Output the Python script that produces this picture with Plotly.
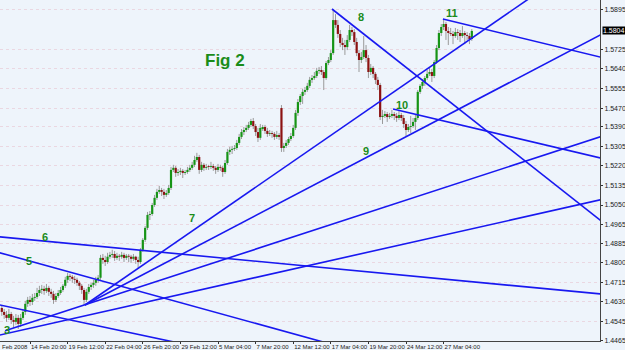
import plotly.graph_objects as go

# ---------------- data (GBP/USD-like H4 bars) ----------------
bar_index = list(range(-12, 189))

opens = [1.4604,1.4587,1.4574,1.4561,1.4578,1.4552,1.4544,1.4561,1.4535,1.4561,1.4587,1.4622,
         1.4639,1.4630,1.4648,1.4652,1.4669,1.4682,1.4687,1.4678,1.4691,1.4674,1.4665,1.4639,
         1.4656,1.4669,1.4682,1.4700,1.4726,1.4743,1.4739,1.4730,1.4726,1.4713,1.4700,1.4682,
         1.4639,1.4674,1.4695,1.4704,1.4713,1.4726,1.4735,1.4821,1.4812,1.4803,1.4826,1.4834,
         1.4838,1.4821,1.4830,1.4826,1.4834,1.4821,1.4830,1.4826,1.4817,1.4826,1.4812,1.4803,
         1.4856,1.4899,1.4951,1.5007,1.5011,1.5050,1.5081,1.5107,1.5115,1.5107,1.5094,1.5102,
         1.5124,1.5202,1.5211,1.5189,1.5193,1.5198,1.5189,1.5193,1.5202,1.5211,1.5224,1.5245,
         1.5258,1.5202,1.5224,1.5211,1.5219,1.5215,1.5219,1.5211,1.5202,1.5215,1.5211,1.5193,
         1.5232,1.5280,1.5289,1.5293,1.5297,1.5319,1.5345,1.5366,1.5375,1.5384,1.5397,1.5414,
         1.5392,1.5366,1.5341,1.5379,1.5388,1.5371,1.5358,1.5362,1.5358,1.5345,1.5353,1.5470,
         1.5297,1.5306,1.5319,1.5336,1.5349,1.5384,1.5449,1.5496,1.5522,1.5540,1.5548,1.5566,
         1.5592,1.5600,1.5609,1.5631,1.5635,1.5626,1.5600,1.5665,1.5678,1.5708,1.5851,1.5830,
         1.5791,1.5752,1.5743,1.5734,1.5765,1.5808,1.5799,1.5756,1.5708,1.5678,1.5691,1.5721,
         1.5687,1.5626,1.5644,1.5618,1.5592,1.5570,1.5431,1.5436,1.5444,1.5431,1.5436,1.5444,
         1.5436,1.5427,1.5440,1.5427,1.5401,1.5375,1.5388,1.5392,1.5410,1.5427,1.5540,1.5566,
         1.5583,1.5600,1.5618,1.5626,1.5609,1.5669,1.5730,1.5795,1.5821,1.5834,1.5804,1.5795,
         1.5791,1.5782,1.5799,1.5795,1.5782,1.5795,1.5786,1.5782,1.5769]

highs = [1.4617,1.4600,1.4591,1.4600,1.4587,1.4570,1.4578,1.4574,1.4578,1.4600,1.4635,1.4652,
         1.4656,1.4665,1.4669,1.4691,1.4700,1.4704,1.4700,1.4708,1.4700,1.4687,1.4678,1.4669,
         1.4682,1.4695,1.4708,1.4739,1.4756,1.4752,1.4747,1.4743,1.4735,1.4721,1.4708,1.4691,
         1.4687,1.4708,1.4713,1.4726,1.4739,1.4747,1.4834,1.4838,1.4830,1.4843,1.4847,1.4856,
         1.4851,1.4843,1.4838,1.4847,1.4843,1.4838,1.4838,1.4834,1.4838,1.4830,1.4826,1.4864,
         1.4907,1.4959,1.5020,1.5024,1.5059,1.5094,1.5120,1.5133,1.5124,1.5120,1.5115,1.5137,
         1.5215,1.5224,1.5219,1.5206,1.5211,1.5206,1.5202,1.5215,1.5224,1.5237,1.5263,1.5276,
         1.5267,1.5237,1.5232,1.5228,1.5224,1.5237,1.5228,1.5219,1.5228,1.5224,1.5219,1.5245,
         1.5293,1.5302,1.5306,1.5310,1.5332,1.5358,1.5379,1.5388,1.5397,1.5410,1.5423,1.5427,
         1.5401,1.5384,1.5401,1.5397,1.5397,1.5384,1.5375,1.5371,1.5366,1.5371,1.5362,1.5483,
         1.5319,1.5332,1.5345,1.5362,1.5397,1.5462,1.5509,1.5531,1.5553,1.5561,1.5579,1.5605,
         1.5613,1.5626,1.5644,1.5648,1.5652,1.5635,1.5674,1.5691,1.5721,1.5899,1.5877,1.5851,
         1.5808,1.5774,1.5765,1.5786,1.5830,1.5821,1.5812,1.5774,1.5721,1.5713,1.5782,1.5743,
         1.5700,1.5661,1.5652,1.5626,1.5605,1.5579,1.5462,1.5457,1.5453,1.5449,1.5462,1.5453,
         1.5449,1.5457,1.5449,1.5440,1.5414,1.5401,1.5436,1.5427,1.5440,1.5548,1.5574,1.5596,
         1.5609,1.5635,1.5644,1.5639,1.5678,1.5743,1.5808,1.5834,1.5856,1.5843,1.5821,1.5817,
         1.5804,1.5817,1.5812,1.5808,1.5825,1.5804,1.5799,1.5795,1.5812]

lows = [1.4570,1.4557,1.4544,1.4552,1.4535,1.4518,1.4531,1.4513,1.4522,1.4552,1.4574,1.4609,
        1.4613,1.4617,1.4635,1.4643,1.4656,1.4665,1.4661,1.4669,1.4656,1.4648,1.4622,1.4630,
        1.4648,1.4661,1.4674,1.4691,1.4713,1.4721,1.4713,1.4708,1.4700,1.4682,1.4665,1.4617,
        1.4630,1.4665,1.4682,1.4691,1.4700,1.4713,1.4726,1.4795,1.4786,1.4795,1.4817,1.4821,
        1.4808,1.4812,1.4808,1.4817,1.4803,1.4812,1.4803,1.4799,1.4808,1.4795,1.4773,1.4795,
        1.4847,1.4890,1.4942,1.4985,1.5003,1.5042,1.5072,1.5098,1.5089,1.5076,1.5085,1.5094,
        1.5115,1.5193,1.5172,1.5176,1.5180,1.5167,1.5180,1.5185,1.5193,1.5202,1.5215,1.5237,
        1.5185,1.5193,1.5198,1.5202,1.5202,1.5206,1.5198,1.5185,1.5193,1.5198,1.5172,1.5185,
        1.5224,1.5267,1.5271,1.5284,1.5289,1.5310,1.5336,1.5353,1.5366,1.5375,1.5388,1.5379,
        1.5349,1.5323,1.5332,1.5371,1.5358,1.5345,1.5349,1.5341,1.5332,1.5336,1.5332,1.5280,
        1.5280,1.5297,1.5310,1.5327,1.5341,1.5375,1.5436,1.5483,1.5488,1.5527,1.5540,1.5557,
        1.5579,1.5592,1.5600,1.5618,1.5613,1.5548,1.5592,1.5656,1.5669,1.5700,1.5817,1.5774,
        1.5734,1.5721,1.5700,1.5721,1.5756,1.5782,1.5743,1.5695,1.5626,1.5665,1.5682,1.5669,
        1.5600,1.5613,1.5600,1.5574,1.5548,1.5418,1.5401,1.5427,1.5410,1.5423,1.5427,1.5418,
        1.5410,1.5418,1.5414,1.5384,1.5349,1.5366,1.5362,1.5384,1.5375,1.5418,1.5531,1.5553,
        1.5566,1.5592,1.5609,1.5583,1.5600,1.5661,1.5721,1.5782,1.5808,1.5765,1.5743,1.5782,
        1.5747,1.5774,1.5765,1.5756,1.5774,1.5747,1.5765,1.5747,1.5761]

closes = [1.4587,1.4574,1.4561,1.4578,1.4552,1.4544,1.4561,1.4535,1.4561,1.4587,1.4622,1.4639,
          1.4630,1.4648,1.4652,1.4669,1.4682,1.4687,1.4678,1.4691,1.4674,1.4665,1.4639,1.4656,
          1.4669,1.4682,1.4700,1.4726,1.4743,1.4739,1.4730,1.4726,1.4713,1.4700,1.4682,1.4639,
          1.4674,1.4695,1.4704,1.4713,1.4726,1.4735,1.4821,1.4812,1.4803,1.4826,1.4834,1.4838,
          1.4821,1.4830,1.4826,1.4834,1.4821,1.4830,1.4826,1.4817,1.4826,1.4812,1.4803,1.4856,
          1.4899,1.4951,1.5007,1.5011,1.5050,1.5081,1.5107,1.5115,1.5107,1.5094,1.5102,1.5124,
          1.5202,1.5211,1.5189,1.5193,1.5198,1.5189,1.5193,1.5202,1.5211,1.5224,1.5245,1.5258,
          1.5202,1.5224,1.5211,1.5215,1.5215,1.5219,1.5211,1.5202,1.5215,1.5211,1.5193,1.5232,
          1.5280,1.5289,1.5293,1.5297,1.5319,1.5345,1.5366,1.5375,1.5384,1.5397,1.5414,1.5392,
          1.5366,1.5341,1.5384,1.5388,1.5371,1.5358,1.5362,1.5358,1.5345,1.5353,1.5345,1.5297,
          1.5306,1.5319,1.5336,1.5349,1.5384,1.5449,1.5496,1.5522,1.5540,1.5548,1.5566,1.5592,
          1.5600,1.5609,1.5631,1.5635,1.5626,1.5600,1.5665,1.5678,1.5708,1.5851,1.5830,1.5791,
          1.5752,1.5743,1.5734,1.5765,1.5808,1.5799,1.5756,1.5708,1.5678,1.5691,1.5721,1.5687,
          1.5626,1.5644,1.5618,1.5592,1.5570,1.5431,1.5436,1.5444,1.5431,1.5436,1.5444,1.5436,
          1.5427,1.5440,1.5427,1.5401,1.5375,1.5388,1.5392,1.5410,1.5427,1.5540,1.5566,1.5583,
          1.5600,1.5618,1.5626,1.5609,1.5669,1.5730,1.5795,1.5821,1.5834,1.5804,1.5795,1.5791,
          1.5782,1.5799,1.5795,1.5782,1.5795,1.5786,1.5782,1.5769,1.5804]

time_tick_index = [0, 16, 32, 48, 64, 80, 96, 112, 128, 144, 160, 176]
time_tick_text = ["14 Feb 20:00", "19 Feb 12:00", "22 Feb 04:00", "26 Feb 20:00",
                  "29 Feb 12:00", "5 Mar 04:00", "7 Mar 20:00", "12 Mar 12:00",
                  "17 Mar 04:00", "19 Mar 20:00", "24 Mar 12:00", "27 Mar 04:00"]
price_ticks = [1.5895, 1.5725, 1.5640, 1.5555, 1.5470, 1.5390, 1.5305, 1.5220, 1.5135,
               1.5050, 1.4965, 1.4885, 1.4800, 1.4715, 1.4630, 1.4545, 1.4465]
last_price = 1.5804

# trend lines: two anchor points (bar index, price) and the bar span they are drawn over
trend_x1 = [-12.77, -12.77, -12.77, 23.4, 23.4, -10.6, -12.77, 128.5, 154.5, 175.7]
trend_p1 = [1.4912, 1.4843, 1.4617, 1.4617, 1.4617, 1.4505, 1.4487, 1.5899, 1.5466, 1.5856]
trend_x2 = [242.55, 72.3, 57.4, 211.5, 242.55, 242.55, 242.55, 242.55, 242.55, 242.55]
trend_p2 = [1.4665, 1.4604, 1.4465, 1.5938, 1.5786, 1.5345, 1.5072, 1.4985, 1.5254, 1.5691]
trend_from = [-20, -20, -20, 23.4, 23.4, -10.6, -20, 128.5, 154.5, 175.7]
trend_to = [250, 160, 110, 250, 250, 250, 250, 250, 250, 250]

wave_labels = ["3", "5", "6", "7", "8", "9", "10", "11"]
wave_x = [-9.8, -0.4, 6.4, 68.9, 140.9, 143.0, 158.3, 179.6]
wave_p = [1.4509, 1.4808, 1.4912, 1.4994, 1.5864, 1.5284, 1.5483, 1.5882]

title_text = "Fig 2"
title_x, title_p = 83.0, 1.5678

# ---------------- figure ----------------
BG = "#EEF4FB"
LINE_BLUE = "#1818F0"
GREEN_TXT = "#1A8C1A"
WICK = "#9A9A9A"
UP_BODY = "#169416"
DOWN_BODY = "#8C1212"
FONT = "Liberation Sans, Arial"

fig = go.Figure()

# wicks (high-low) as one gray line trace
wick_x, wick_y = [], []
for i, h, l in zip(bar_index, highs, lows):
    wick_x += [i, i, None]
    wick_y += [l, h, None]
fig.add_trace(go.Scatter(x=wick_x, y=wick_y, mode="lines",
                         line=dict(color=WICK, width=1), showlegend=False, hoverinfo="skip"))

# bodies (open-close) drawn as thick segments on top of the wicks
min_body = 0.0003
body = {"up": ([], []), "down": ([], []), "flat": ([], [])}
for i, o, c in zip(bar_index, opens, closes):
    lo, hi = min(o, c), max(o, c)
    if hi - lo < min_body:
        mid = (hi + lo) / 2
        lo, hi = mid - min_body / 2, mid + min_body / 2
    key = "up" if c > o else ("down" if c < o else "flat")
    body[key][0].extend([i, i, None])
    body[key][1].extend([lo, hi, None])
for key, col in (("flat", WICK), ("up", UP_BODY), ("down", DOWN_BODY)):
    fig.add_trace(go.Scatter(x=body[key][0], y=body[key][1], mode="lines",
                             line=dict(color=col, width=2.2),
                             showlegend=False, hoverinfo="skip"))

for x1, p1, x2, p2, a, b in zip(trend_x1, trend_p1, trend_x2, trend_p2, trend_from, trend_to):
    slope = (p2 - p1) / (x2 - x1)
    fig.add_trace(go.Scatter(
        x=[a, b], y=[p1 + slope * (a - x1), p1 + slope * (b - x1)],
        mode="lines", line=dict(color=LINE_BLUE, width=1.6),
        showlegend=False, hoverinfo="skip",
    ))

for t, x, p in zip(wave_labels, wave_x, wave_p):
    fig.add_annotation(x=x, y=p, text=f"<b>{t}</b>", showarrow=False,
                       font=dict(family=FONT, size=11, color=GREEN_TXT))

fig.add_annotation(x=title_x, y=title_p, text=f"<b>{title_text}</b>", showarrow=False,
                   font=dict(family=FONT, size=17, color=GREEN_TXT))

# current price tag on the price axis
fig.add_annotation(xref="paper", x=1.0, xanchor="left", y=last_price, yanchor="middle",
                   text=f"{last_price:.4f}", showarrow=False, bgcolor="#000000",
                   borderpad=0, xshift=2,
                   font=dict(family=FONT, size=7, color="#FFFFFF"))

# first (cut) date label at the very left
fig.add_annotation(xref="paper", yref="paper", x=0.0, y=0.0, xanchor="left", yanchor="top",
                   text="Feb 2008", showarrow=False, yshift=-1,
                   font=dict(family=FONT, size=6, color="#222222"))

fig.update_layout(
    width=625, height=350,
    margin=dict(l=0, r=25, t=0, b=9),
    paper_bgcolor=BG, plot_bgcolor=BG,
    xaxis=dict(
        range=[-12.77, 242.55],
        tickmode="array", tickvals=time_tick_index, ticktext=time_tick_text,
        tickangle=0,
        ticklabelposition="outside right", ticks="outside", ticklen=2, tickcolor="#333",
        tickfont=dict(family=FONT, size=6, color="#222222"),
        showgrid=False, zeroline=False,
        showline=True, linecolor="#444444", linewidth=1,
    ),
    yaxis=dict(
        side="right", range=[1.4461, 1.5938],
        tickmode="array", tickvals=price_ticks, ticktext=[f"{v:.4f}" for v in price_ticks],
        ticks="outside", ticklen=2, tickcolor="#333",
        tickfont=dict(family=FONT, size=7, color="#222222"),
        showgrid=True, gridcolor="rgba(226,160,178,0.35)", griddash="dot", gridwidth=1,
        zeroline=False, showline=True, linecolor="#444444", linewidth=1,
    ),
)

fig.write_html("out.html")
